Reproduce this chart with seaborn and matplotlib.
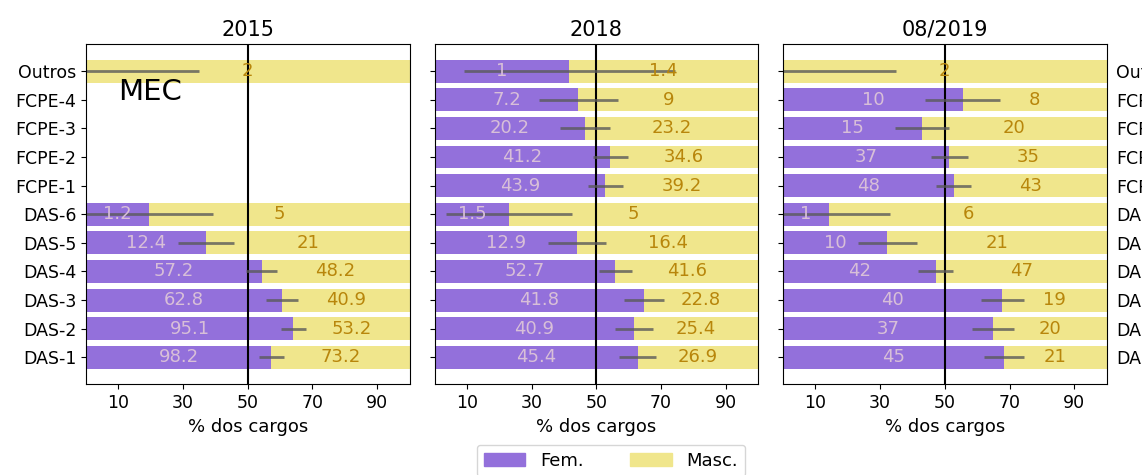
import numpy as np
import pandas as pd
import matplotlib
matplotlib.use("Agg")
import matplotlib.pyplot as plt
import seaborn as sns
from matplotlib.patches import Patch

nan = np.nan

cargos = ["Outros", "FCPE-4", "FCPE-3", "FCPE-2", "FCPE-1",
          "DAS-6", "DAS-5", "DAS-4", "DAS-3", "DAS-2", "DAS-1"]

titulos = ["2015", "2018", "08/2019"]

fem_2015 = [0, nan, nan, nan, nan, 1.2, 12.4, 57.2, 62.8, 95.1, 98.2]
masc_2015 = [2, nan, nan, nan, nan, 5, 21, 48.2, 40.9, 53.2, 73.2]
err_2015 = [35, nan, nan, nan, nan, 20, 8.6, 4.8, 4.9, 4.0, 3.9]

fem_2018 = [1, 7.2, 20.2, 41.2, 43.9, 1.5, 12.9, 52.7, 41.8, 40.9, 45.4]
masc_2018 = [1.4, 9, 23.2, 34.6, 39.2, 5, 16.4, 41.6, 22.8, 25.4, 26.9]
err_2018 = [32.7, 12.2, 7.7, 5.5, 5.3, 19.5, 8.9, 5.0, 6.2, 5.9, 5.8]

fem_2019 = [0, 10, 15, 37, 48, 1, 10, 42, 40, 37, 45]
masc_2019 = [2, 8, 20, 35, 43, 6, 21, 47, 19, 20, 21]
err_2019 = [35, 11.6, 8.3, 5.8, 5.4, 18.7, 9.1, 5.4, 6.6, 6.6, 6.2]

dados = [(fem_2015, masc_2015, err_2015),
         (fem_2018, masc_2018, err_2018),
         (fem_2019, masc_2019, err_2019)]

COR_FEM = "mediumpurple"
COR_MASC = "khaki"

plt.rcParams["font.family"] = ["DejaVu Sans"]
plt.rcParams["font.size"] = 12.5

fig, axes = plt.subplots(1, 3, figsize=(11.42, 4.75), dpi=100)
fig.subplots_adjust(left=0.0753, right=0.969, bottom=0.191, top=0.907, wspace=0.0773)


def label(v):
    if np.isnan(v) or v == 0:
        return ""
    return f"{v:g}"


for i, (ax, (fem, masc, err)) in enumerate(zip(axes, dados)):
    df = pd.DataFrame({"cargo": cargos, "fem": fem, "masc": masc, "err": err})
    df = df.dropna()
    df["pct_fem"] = df["fem"] / (df["fem"] + df["masc"]) * 100
    df["pct_masc"] = df["masc"] / (df["fem"] + df["masc"]) * 100
    df["total"] = df["pct_fem"] + df["pct_masc"]
    pos = [cargos.index(c) for c in df["cargo"]]

    sns.barplot(data=df, x="total", y="cargo", order=cargos, orient="h",
                color=COR_MASC, saturation=1, errorbar=None, ax=ax)
    sns.barplot(data=df, x="pct_fem", y="cargo", order=cargos, orient="h",
                color=COR_FEM, saturation=1, errorbar=None, ax=ax)

    ax.axvline(50, color="black", lw=1.5)
    ax.errorbar(df["pct_fem"], pos, xerr=df["err"], fmt="none",
                ecolor="#5a5a5a", elinewidth=2, alpha=0.8)

    for y, pf, f, m in zip(pos, df["pct_fem"], df["fem"], df["masc"]):
        ax.text(pf / 2, y, label(f), ha="center", va="center",
                color="thistle", fontsize=13)
        ax.text((pf + 100) / 2, y, label(m), ha="center", va="center",
                color="darkgoldenrod", fontsize=13)

    ax.set_xlim(0, 100)
    ax.set_xticks([10, 30, 50, 70, 90])
    ax.set_xlabel("% dos cargos", fontsize=13)
    ax.set_ylabel("")
    ax.set_title(titulos[i], fontsize=15)

    if i == 1:
        ax.tick_params(axis="y", labelleft=False)
    if i == 2:
        ax.tick_params(axis="y", labelleft=False, labelright=True,
                       left=True, right=False)

axes[0].text(10, 1, "MEC", fontsize=21)

handles = [Patch(color=COR_FEM, label="Fem."), Patch(color=COR_MASC, label="Masc.")]
fig.legend(handles=handles, loc="upper center", ncol=2,
           bbox_to_anchor=(0.535, 0.064), borderaxespad=0,
           handlelength=2.3, columnspacing=2.6, fontsize=13)

fig.savefig("out.png", dpi=100)
plt.close(fig)
